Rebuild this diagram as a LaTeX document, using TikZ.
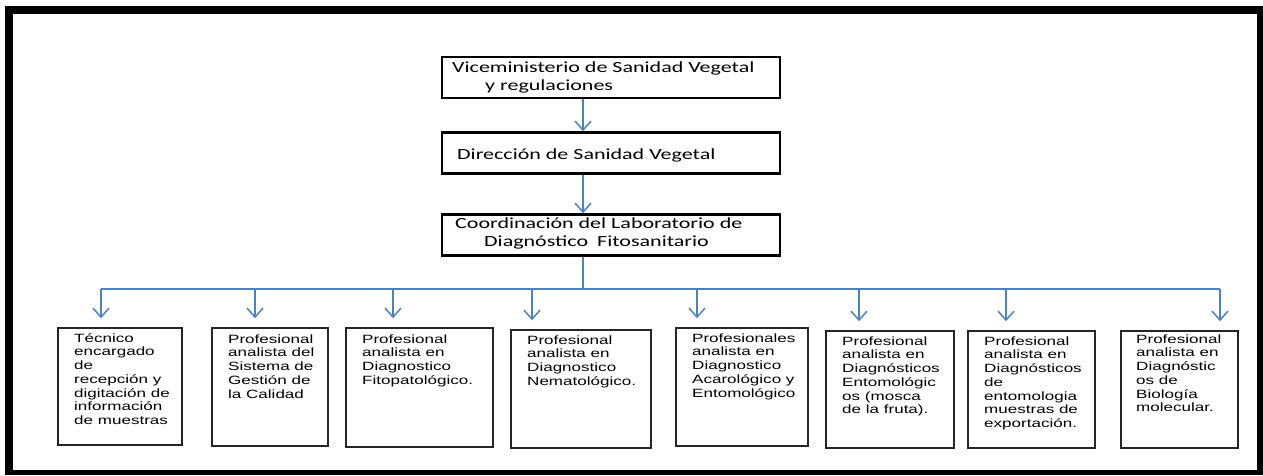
\documentclass[tikz,border=0pt]{standalone}
\usepackage{fontspec}
\usetikzlibrary{arrows.meta}
\newfontfamily\calf{Carlito}[FakeStretch=1.42]
\newfontfamily\arialf{Liberation Sans}[FakeStretch=1.42]
\definecolor{lineblue}{RGB}{79,129,189}
\tikzset{
  topbox/.style={draw=black, line width=2.6pt, minimum width=338pt, minimum height=41pt, inner sep=0pt},
  subbox/.style={draw=black!85, line width=1.5pt, inner sep=0pt},
  toptext/.style={anchor=north west, inner sep=0pt, align=left, font=\calf\fontsize{15.5}{18}\selectfont},
  subtext/.style={anchor=north west, inner sep=0pt, align=left, font=\arialf\fontsize{12}{13.7}\selectfont},
  link/.style={draw=lineblue, line width=1.5pt},
  arr/.style={link, -{Straight Barb[length=9pt,width=16pt,line width=1.5pt]}}
}
\begin{document}
\begin{tikzpicture}[x=1pt,y=-1pt]
\useasboundingbox (0,0) rectangle (1263,475);
% frame
\fill[black] (5,6) rectangle (1263,475);
\fill[white] (13,14) rectangle (1257,470);
% top boxes
\node[topbox] (vice) at (611,77.5) {};
\node[toptext] (vicet) at (452,59.4) {\strut Viceministerio de Sanidad Vegetal\\\hspace*{33pt}y regulaciones};
\node[topbox] (dir) at (611,153) {};
\node[toptext] (dirt) at (457,146.4) {\strut Dirección de Sanidad Vegetal};
\node[topbox] (coord) at (611,235) {};
\node[toptext] (coordt) at (455,215.4) {\strut Coordinación del Laboratorio de\\\hspace*{29pt}Diagnóstico\hspace{4pt} Fitosanitario};
% axis coordinates
\coordinate (ax) at (583,0);
\coordinate (bar) at (583,289);
\coordinate (barL) at (101,289);
\coordinate (barR) at (1220,289);
\draw[arr] (vice.south -| ax) -- (dir.north -| ax);
\draw[arr] (dir.south -| ax) -- (coord.north -| ax);
\draw[link] (coord.south -| ax) -- (bar);
\draw[link] (barL) -- (barR);
% bottom boxes
\node[subbox, minimum width=124pt, minimum height=117pt] (b1) at (120,386.5) {};
\node[subbox, minimum width=116pt, minimum height=118pt] (b2) at (270,387) {};
\node[subbox, minimum width=147pt, minimum height=119pt] (b3) at (419.5,387.5) {};
\node[subbox, minimum width=140pt, minimum height=118pt] (b4) at (581,389) {};
\node[subbox, minimum width=132pt, minimum height=118pt] (b5) at (742,387) {};
\node[subbox, minimum width=128pt, minimum height=117pt] (b6) at (890,389.5) {};
\node[subbox, minimum width=127pt, minimum height=117pt] (b7) at (1031.5,389.5) {};
\node[subbox, minimum width=117pt, minimum height=117pt] (b8) at (1179.5,389.5) {};
% drop coordinates
\coordinate (k1) at (101,289);
\coordinate (k2) at (255,289);
\coordinate (k3) at (393,289);
\coordinate (k4) at (532,289);
\coordinate (k5) at (697,289);
\coordinate (k6) at (859,289);
\coordinate (k7) at (1006,289);
\coordinate (k8) at (1220,289);
\foreach \i in {1,...,8}{
  \draw[arr, shorten >=9pt] (k\i) -- (k\i |- b\i.north);
}
% bottom texts
\node[subtext] (t1) at (74,332.4) {\strut Técnico\\encargado\\de\\recepción y\\digitación de\\información\\de muestras};
\node[subtext] (t2) at (228,333.4) {\strut Profesional\\analista del\\Sistema de\\Gestión de\\la Calidad};
\node[subtext] (t3) at (362,333.4) {\strut Profesional\\analista en\\Diagnostico\\Fitopatológico.};
\node[subtext] (t4) at (527,334.4) {\strut Profesional\\analista en\\Diagnostico\\Nematológico.};
\node[subtext] (t5) at (692,332.4) {\strut Profesionales\\analista en\\Diagnostico\\Acarológico y\\Entomológico};
\node[subtext] (t6) at (842,335.4) {\strut Profesional\\analista en\\Diagnósticos\\Entomológic\\os (mosca\\de la fruta).};
\node[subtext] (t7) at (984,335.4) {\strut Profesional\\analista en\\Diagnósticos\\de\\entomologia\\muestras de\\exportación.};
\node[subtext] (t8) at (1136,333.4) {\strut Profesional\\analista en\\Diagnóstic\\os de\\Biología\\molecular.};
\end{tikzpicture}
\end{document}
